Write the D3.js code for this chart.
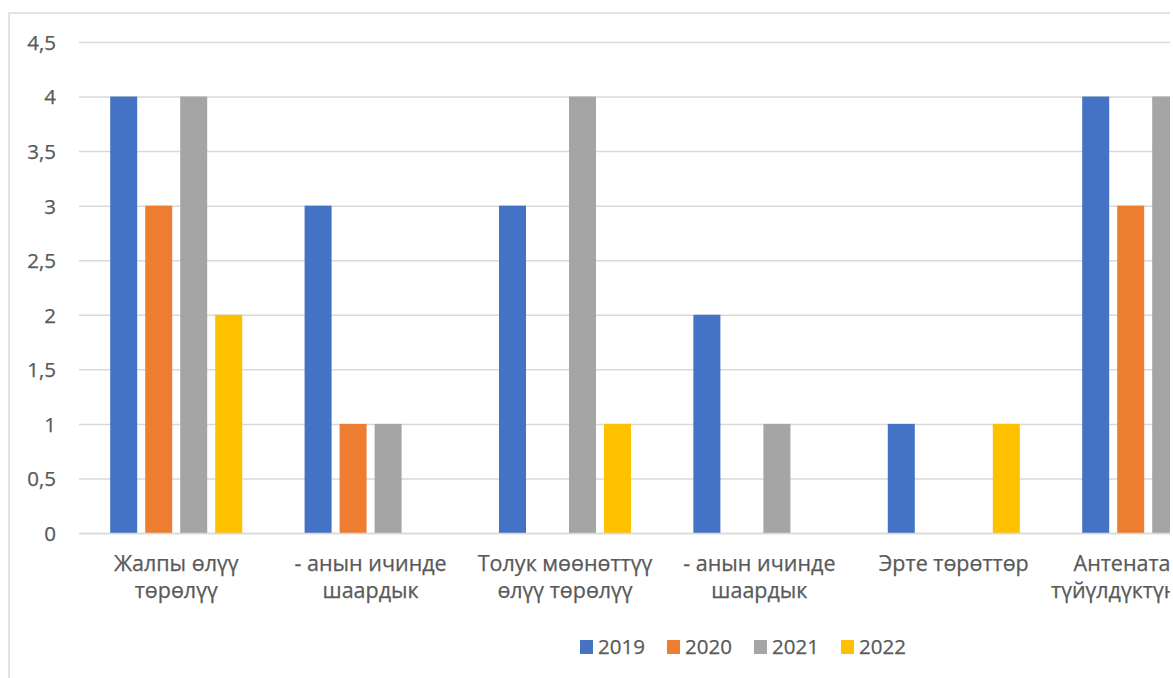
<!DOCTYPE html>
<html>
<head>
<meta charset="utf-8">
<script src="https://cdn.jsdelivr.net/npm/d3@7/dist/d3.min.js"></script>
<style>
  html, body { margin: 0; padding: 0; background: #fff; overflow: hidden; }
  svg { display: block; }
  text { font-family: "Open Sans", "DejaVu Sans", sans-serif; fill: #595959; stroke: #595959; stroke-width: 0.25px; }
</style>
</head>
<body>
<svg id="chart" width="1173" height="678"></svg>
<script>
// Categories (each label split into its two wrapped lines)
const categories = [
  ["Жалпы өлүү", "төрөлүү"],
  ["- анын ичинде", "шаардык"],
  ["Толук мөөнөттүү", "өлүү төрөлүү"],
  ["- анын ичинде", "шаардык"],
  ["Эрте төрөттөр", ""],
  ["Антенаталдык", "түйүлдүктүн өлүмү"]
];

const years = ["2019", "2020", "2021", "2022"];

// Values per year, one entry per category (null = no bar)
const values2019 = [4, 3, 3, 2, 1, 4];
const values2020 = [3, 1, null, null, null, 3];
const values2021 = [4, 1, 4, 1, null, 4];
const values2022 = [2, null, 1, null, 1, null];

const yTicks = [0, 0.5, 1, 1.5, 2, 2.5, 3, 3.5, 4, 4.5];

const colors = ["#4472C4", "#ED7D31", "#A5A5A5", "#FFC000"];

const seriesValues = [values2019, values2020, values2021, values2022];

const svg = d3.select("#chart");

// Chart frame (extends past the visible window)
svg.append("rect")
  .attr("x", 9).attr("y", 13)
  .attr("width", 1600).attr("height", 800)
  .attr("fill", "#fff")
  .attr("stroke", "#d9d9d9")
  .attr("stroke-width", 1.5);

const plotLeft = 79;
const step = 194.4;

const x = d3.scaleBand()
  .domain(d3.range(categories.length))
  .range([plotLeft, plotLeft + step * categories.length])
  .paddingInner(0).paddingOuter(0);

const xs = d3.scaleBand()
  .domain(years)
  .range([0, x.bandwidth()])
  .paddingInner(8 / 35)
  .paddingOuter(0.891);

const y = d3.scaleLinear().domain([0, 4.5]).range([533, 42]);

const fmt = v => String(v).replace(".", ",");

// Gridlines and value labels
const yAxis = d3.axisLeft(y)
  .tickValues(yTicks)
  .tickFormat(fmt)
  .tickSize(-(x.range()[1] - plotLeft))
  .tickPadding(23);

const gy = svg.append("g")
  .attr("transform", `translate(${plotLeft},0)`)
  .call(yAxis);
gy.select(".domain").remove();
gy.selectAll(".tick line")
  .attr("stroke", "#d9d9d9")
  .attr("stroke-width", 1.5);
gy.selectAll(".tick text")
  .attr("font-size", 20.5)
  .attr("fill", "#595959")
  .attr("dy", "0.36em");

// Bars
const barData = [];
seriesValues.forEach((vals, si) => {
  vals.forEach((v, ci) => {
    if (v !== null) barData.push({ ci, year: years[si], si, v });
  });
});

svg.append("g").selectAll("rect")
  .data(barData)
  .join("rect")
  .attr("x", d => x(d.ci) + xs(d.year))
  .attr("width", xs.bandwidth())
  .attr("y", d => y(d.v))
  .attr("height", d => y(0) - y(d.v))
  .attr("fill", d => colors[d.si]);

// Category axis line
const xAxis = d3.axisBottom(x)
  .tickSize(0)
  .tickFormat(() => "");
const gx = svg.append("g")
  .attr("transform", `translate(0,${y(0)})`)
  .call(xAxis);
gx.select(".domain").attr("stroke", "#d9d9d9").attr("stroke-width", 1.5);

// Category labels, two lines each
const labels = svg.append("g").selectAll("text")
  .data(categories)
  .join("text")
  .attr("text-anchor", "middle")
  .attr("font-size", 21.5)
  .attr("x", (d, i) => x(i) + x.bandwidth() / 2)
  .attr("y", 571);
labels.each(function (lines, i) {
  const t = d3.select(this);
  lines.forEach((ln, k) => {
    t.append("tspan")
      .attr("x", x(i) + x.bandwidth() / 2)
      .attr("y", 571 + k * 27)
      .text(ln);
  });
});

// Legend
const legend = svg.append("g").selectAll("g")
  .data(years)
  .join("g")
  .attr("transform", (d, i) => `translate(${580 + i * 87},640)`);
legend.append("rect")
  .attr("width", 13).attr("height", 14)
  .attr("fill", (d, i) => colors[i]);
legend.append("text")
  .attr("x", 18).attr("y", 14)
  .attr("font-size", 20.5)
  .text(d => d);

// Right edge strip
svg.append("rect")
  .attr("x", 1170).attr("y", 0)
  .attr("width", 3).attr("height", 678)
  .attr("fill", "#fff");
</script>
</body>
</html>
